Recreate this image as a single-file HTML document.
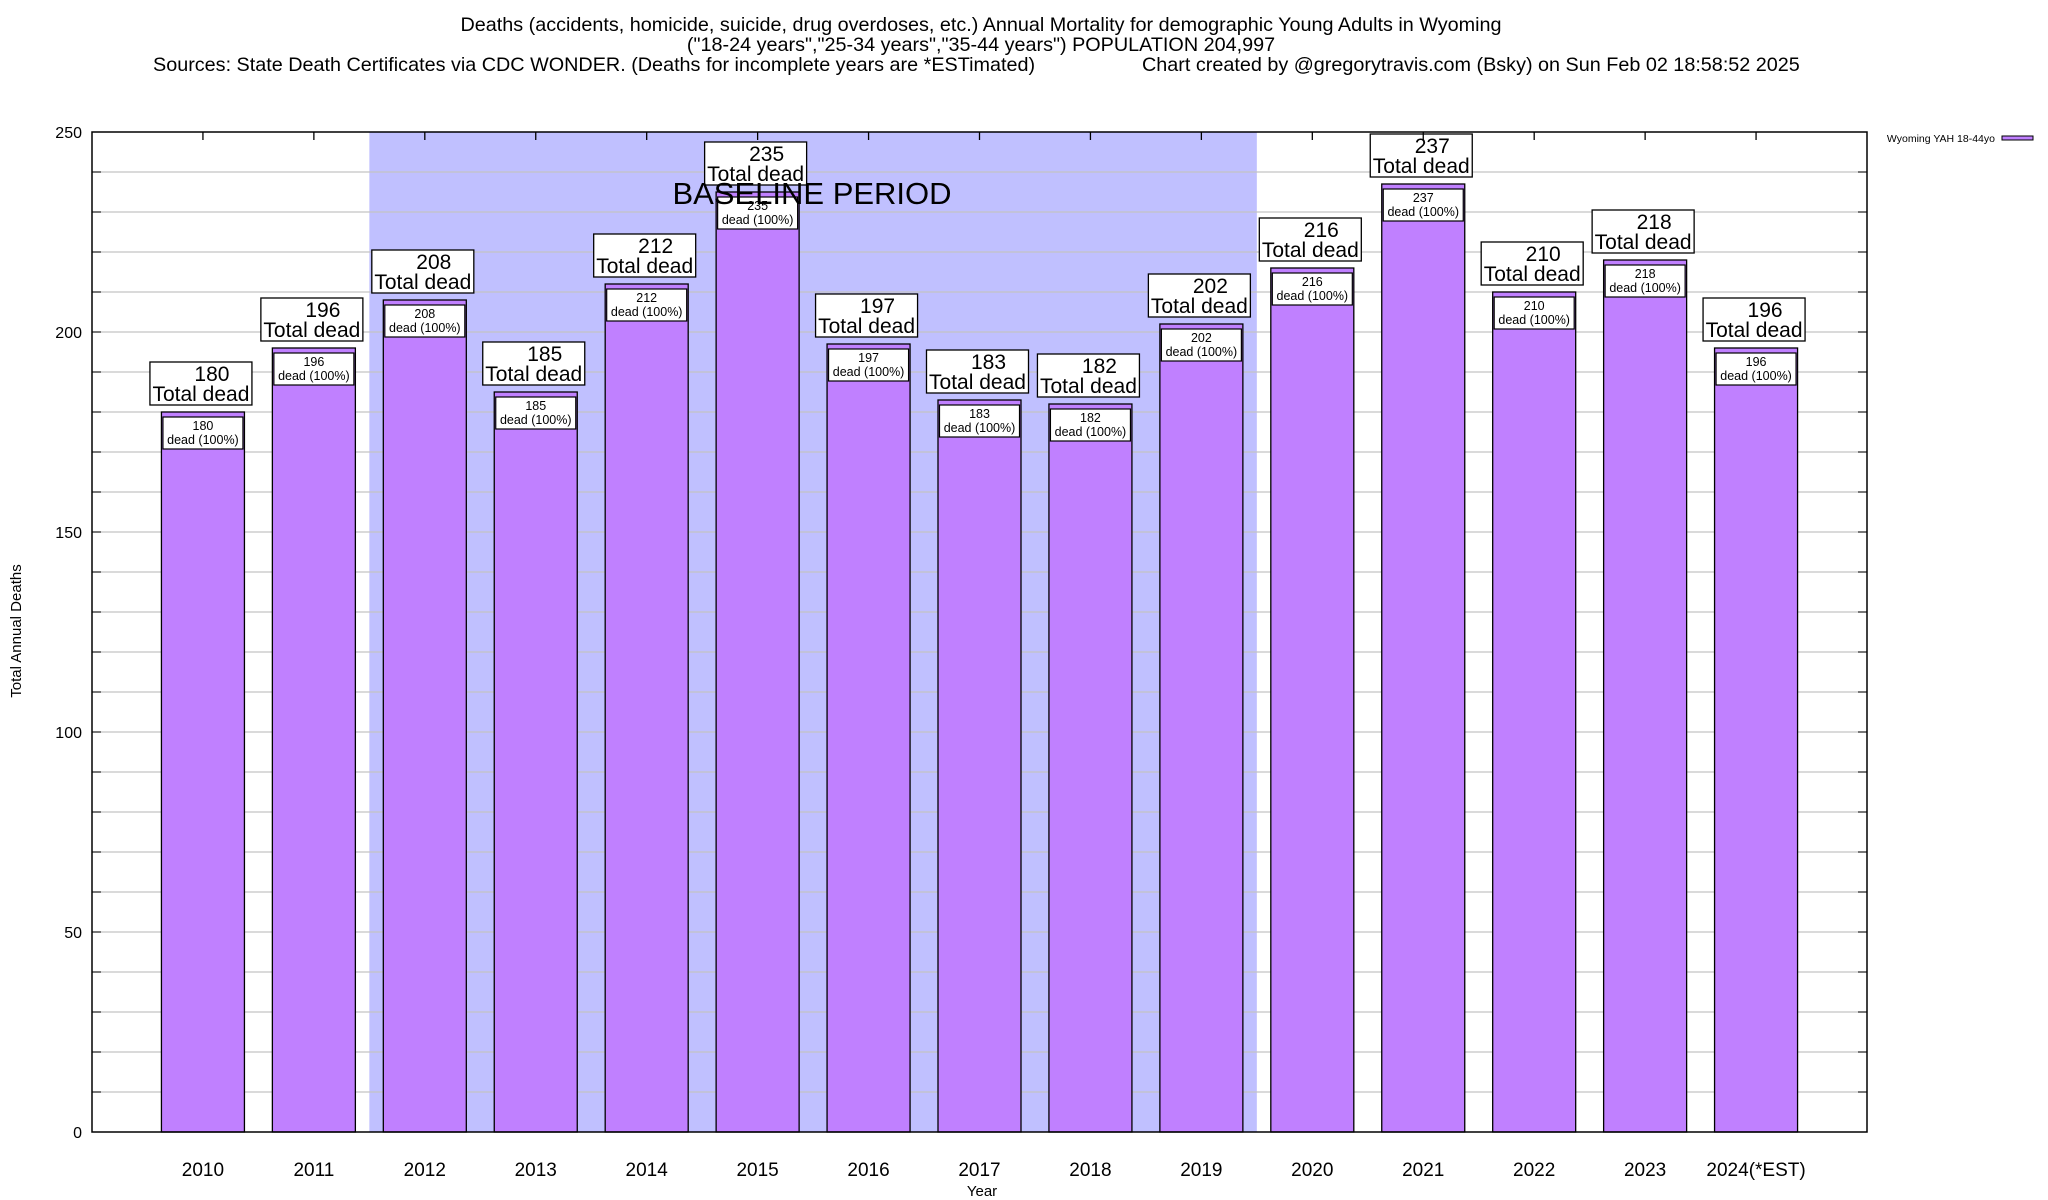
<!DOCTYPE html>
<html><head><meta charset="utf-8"><style>
html,body{margin:0;padding:0;background:#fff;}
svg{display:block;font-family:"Liberation Sans",Arial,sans-serif;}
</style></head><body>
<svg id="chart" width="2048" height="1200" viewBox="0 0 2048 1200">
<g font-size="19.8" fill="#000">
<text x="981" y="31" text-anchor="middle">Deaths (accidents, homicide, suicide, drug overdoses, etc.) Annual Mortality for demographic Young Adults in Wyoming</text>
<text x="981" y="51" text-anchor="middle">("18-24 years","25-34 years","35-44 years") POPULATION 204,997</text>
<text x="153" y="71">Sources: State Death Certificates via CDC WONDER. (Deaths for incomplete years are *ESTimated)</text>
<text x="1142" y="71">Chart created by @gregorytravis.com (Bsky) on Sun Feb 02 18:58:52 2025</text>
</g>
<g id="plot"></g>
</svg>
<script>
const categories=["2010","2011","2012","2013","2014","2015","2016","2017","2018","2019","2020","2021","2022","2023","2024(*EST)"];
const deaths=[180,196,208,185,212,235,197,183,182,202,216,237,210,218,196];
const yTicks=[0,50,100,150,200,250];
const baselineStart=2, baselineEnd=9;

const NS="http://www.w3.org/2000/svg";
const L=92,R=1867,T=132,B=1132,yMax=250;
const slot=(R-L)/(categories.length+1);
const xc=i=>L+(i+1)*slot;
const y=v=>B-(B-T)*v/yMax;
const barW=83;
const g=document.getElementById('plot');
function el(tag,attrs,parent){const e=document.createElementNS(NS,tag);for(const k in attrs)e.setAttribute(k,attrs[k]);(parent||g).appendChild(e);return e;}
function txt(x,yy,s,size,anchor,parent){const t=el('text',{x:x,y:yy,'font-size':size,'text-anchor':anchor||'middle'},parent);t.textContent=s;return t;}

const sh=el('rect',{x:xc(baselineStart)-slot/2,y:T,width:(baselineEnd-baselineStart+1)*slot,height:B-T,fill:'#c0c0ff'});



for(let v=10;v<yMax;v+=10){
  const gl=el('line',{x1:L,x2:R,y1:y(v),y2:y(v),stroke:'#c4c4c4','stroke-width':1.2});
  
  
  el('line',{x1:L,x2:L+9,y1:y(v),y2:y(v),stroke:'#000','stroke-width':1});
  el('line',{x1:R-9,x2:R,y1:y(v),y2:y(v),stroke:'#000','stroke-width':1});
}
yTicks.forEach(v=>{
  const t=txt(82,y(v)+6,String(v),16,'end');
  
  
});

deaths.forEach((v,i)=>{
  const cx=xc(i), top=y(v);
  const bar=el('rect',{x:cx-barW/2,y:top,width:barW,height:B-top,fill:'#c080ff',stroke:'#000','stroke-width':1.3});
  
  
  const ib=el('rect',{x:cx-barW/2+1.5,y:top+5,width:barW-3,height:32,fill:'#fff',stroke:'#000','stroke-width':1.2});
  
  
  const t1=txt(cx,top+18,String(v),12.5);
  
  
  const t2=txt(cx,top+32,'dead (100%)',12.5);
  
  
  const ob=el('rect',{x:cx-53,y:top-50,width:102,height:43,fill:'#fff',stroke:'#000','stroke-width':1.3});
  
  
  const t3=txt(cx+9,top-31,String(v),21);
  
  
  const t4=txt(cx-2,top-11,'Total dead',21);
  
  
  const xl=txt(cx,1176,categories[i],19);
  
  
  el('line',{x1:cx,x2:cx,y1:T,y2:T+8,stroke:'#000','stroke-width':1.3});
});

const bl=txt(812,204,'BASELINE PERIOD',31,'middle');



const fr=el('rect',{x:L,y:T,width:R-L,height:B-T,fill:'none',stroke:'#000','stroke-width':1.5});



const yt=txt(0,0,'Total Annual Deaths',15);
yt.setAttribute('transform','translate(21,631) rotate(-90)');


const xt=txt(982,1196,'Year',15);



const lt=txt(1995,142,'Wyoming YAH 18-44yo',10.5,'end');


const ls=el('rect',{x:2002,y:136,width:31,height:4,fill:'#c080ff',stroke:'#000','stroke-width':1});


</script>
</body></html>
